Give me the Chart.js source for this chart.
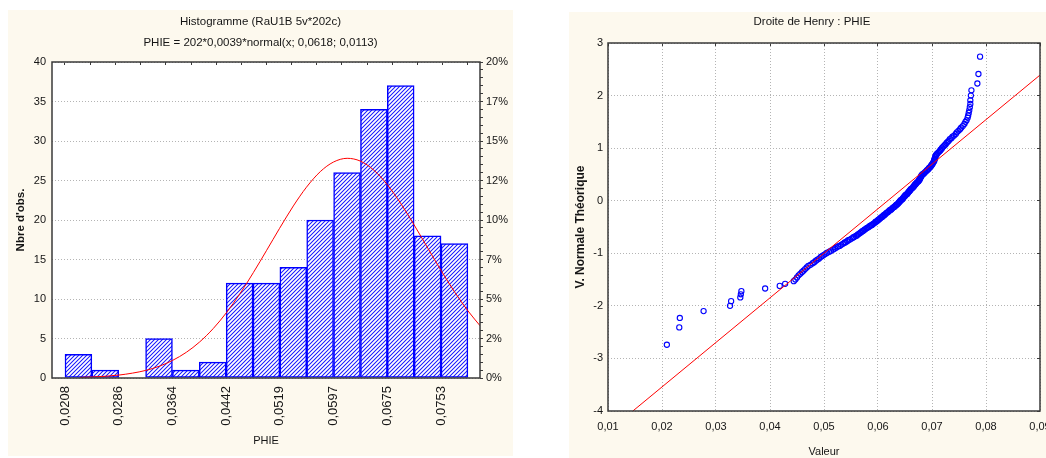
<!DOCTYPE html>
<html>
<head>
<meta charset="utf-8">
<script src="https://cdn.jsdelivr.net/npm/chart.js@4.4.1/dist/chart.umd.min.js"></script>
<style>
  html, body { margin: 0; padding: 0; background: #ffffff; width: 1046px; height: 458px; overflow: hidden; }
  .panel { position: absolute; background: #fdf9ee; }
  #histPanel { left: 8px; top: 10px; width: 505px; height: 446px; }
  #henryPanel { left: 569px; top: 12px; width: 500px; height: 460px; }
  canvas { display: block; }
</style>
</head>
<body>
<div class="panel" id="histPanel"><canvas id="hist" width="505" height="446"></canvas></div>
<div class="panel" id="henryPanel"><canvas id="henry" width="500" height="460"></canvas></div>
<script>
// ---------- Histogram of PHIE ----------
const histTitle = ['Histogramme (RaU1B 5v*202c)', 'PHIE = 202*0,0039*normal(x; 0,0618; 0,0113)'];
const binCenters = [0.02275, 0.02664, 0.03053, 0.03443, 0.03832, 0.04221, 0.04611, 0.05000,
                    0.05389, 0.05778, 0.06168, 0.06557, 0.06946, 0.07336, 0.07725];
const binCounts = [3, 1, 0, 5, 1, 2, 12, 12, 14, 20, 26, 34, 37, 18, 17];
const binEdges = [0.0208, 0.0247, 0.0286, 0.0325, 0.0364, 0.0403, 0.0442, 0.0481,
                  0.0519, 0.0558, 0.0597, 0.0636, 0.0675, 0.0714, 0.0753, 0.0792];
const histTickValues = [0.0208, 0.0286, 0.0364, 0.0442, 0.0519, 0.0597, 0.0675, 0.0753];
const histTickLabels = ['0,0208', '0,0286', '0,0364', '0,0442', '0,0519', '0,0597', '0,0675', '0,0753'];
const pctTickLabels = ['0%', '2%', '5%', '7%', '10%', '12%', '15%', '17%', '20%'];
// fitted normal curve (expected counts per bin)
const normalX = [0.0230, 0.0247, 0.0267, 0.0286, 0.0306, 0.0325, 0.0345, 0.0364, 0.0384, 0.0403,
                 0.0423, 0.0442, 0.0462, 0.0481, 0.0500, 0.0519, 0.0539, 0.0558, 0.0578, 0.0597,
                 0.0617, 0.0636, 0.0656, 0.0675, 0.0695, 0.0714, 0.0734, 0.0753, 0.0773, 0.0792, 0.0811];
const normalY = [0.08, 0.13, 0.22, 0.37, 0.62, 0.96, 1.50, 2.23, 3.26, 4.55,
                 6.27, 8.27, 10.72, 13.34, 16.12, 18.94, 21.78, 24.15, 26.12, 27.33,
                 27.81, 27.46, 26.28, 24.49, 22.05, 19.38, 16.42, 13.62, 10.85, 8.50, 6.47];

// ---------- Normal probability plot ----------
const henryTitle = 'Droite de Henry : PHIE';
const henryX = [
  0.0209, 0.0232, 0.0233, 0.0277, 0.0326, 0.0328, 0.0345, 0.0346, 0.0347, 0.0391,
  0.0418, 0.0428, 0.0444, 0.0447, 0.0450, 0.0453, 0.0456, 0.0459, 0.0462, 0.0465,
  0.0468, 0.0471, 0.0475, 0.0479, 0.0482, 0.0485, 0.0488, 0.0491, 0.0494, 0.0497,
  0.0500, 0.0503, 0.0506, 0.0510, 0.0513, 0.0517, 0.0520, 0.0523, 0.0526, 0.0529,
  0.0532, 0.0535, 0.0538, 0.0540, 0.0543, 0.0545, 0.0548, 0.0551, 0.0554, 0.0556,
  0.0559, 0.0561, 0.0563, 0.0565, 0.0567, 0.0569, 0.0571, 0.0573, 0.0575, 0.0577,
  0.0579, 0.0581, 0.0583, 0.0585, 0.0587, 0.0589, 0.0591, 0.0593, 0.0595, 0.0596,
  0.0598, 0.0600, 0.0601, 0.0603, 0.0604, 0.0606, 0.0607, 0.0609, 0.0610, 0.0612,
  0.0613, 0.0615, 0.0616, 0.0618, 0.0619, 0.0621, 0.0622, 0.0624, 0.0625, 0.0627,
  0.0628, 0.0630, 0.0631, 0.0633, 0.0634, 0.0635, 0.0637, 0.0638, 0.0639, 0.0640,
  0.0641, 0.0642, 0.0644, 0.0645, 0.0646, 0.0647, 0.0648, 0.0649, 0.0650, 0.0651,
  0.0653, 0.0654, 0.0655, 0.0656, 0.0657, 0.0658, 0.0659, 0.0660, 0.0661, 0.0662,
  0.0664, 0.0665, 0.0666, 0.0667, 0.0668, 0.0669, 0.0670, 0.0671, 0.0672, 0.0674,
  0.0675, 0.0676, 0.0677, 0.0677, 0.0678, 0.0679, 0.0680, 0.0680, 0.0681, 0.0682,
  0.0684, 0.0685, 0.0687, 0.0688, 0.0690, 0.0691, 0.0693, 0.0694, 0.0695, 0.0697,
  0.0698, 0.0699, 0.0700, 0.0701, 0.0702, 0.0703, 0.0704, 0.0704, 0.0705, 0.0705,
  0.0706, 0.0706, 0.0707, 0.0708, 0.0709, 0.0711, 0.0713, 0.0715, 0.0716, 0.0718,
  0.0719, 0.0721, 0.0723, 0.0725, 0.0727, 0.0729, 0.0731, 0.0733, 0.0736, 0.0738,
  0.0741, 0.0744, 0.0746, 0.0749, 0.0752, 0.0754, 0.0757, 0.0760, 0.0762, 0.0764,
  0.0766, 0.0767, 0.0768, 0.0769, 0.0770, 0.0771, 0.0771, 0.0772, 0.0773, 0.0784,
  0.0786, 0.0789
];
const henryY = [
  -2.74, -2.41, -2.23, -2.10, -2.00, -1.91, -1.84, -1.78, -1.72, -1.67,
  -1.62, -1.58, -1.53, -1.50, -1.46, -1.42, -1.39, -1.36, -1.33, -1.30,
  -1.27, -1.24, -1.22, -1.19, -1.17, -1.14, -1.12, -1.10, -1.07, -1.05,
  -1.03, -1.01, -0.99, -0.97, -0.95, -0.93, -0.91, -0.89, -0.87, -0.86,
  -0.84, -0.82, -0.80, -0.79, -0.77, -0.75, -0.74, -0.72, -0.70, -0.69,
  -0.67, -0.66, -0.64, -0.63, -0.61, -0.60, -0.58, -0.57, -0.55, -0.54,
  -0.52, -0.51, -0.50, -0.48, -0.47, -0.46, -0.44, -0.43, -0.41, -0.40,
  -0.39, -0.37, -0.36, -0.35, -0.33, -0.32, -0.31, -0.30, -0.28, -0.27,
  -0.26, -0.24, -0.23, -0.22, -0.21, -0.19, -0.18, -0.17, -0.16, -0.14,
  -0.13, -0.12, -0.11, -0.09, -0.08, -0.07, -0.06, -0.04, -0.03, -0.02,
  -0.01, 0.01, 0.02, 0.03, 0.04, 0.06, 0.07, 0.08, 0.09, 0.11,
  0.12, 0.13, 0.14, 0.16, 0.17, 0.18, 0.19, 0.21, 0.22, 0.23,
  0.24, 0.26, 0.27, 0.28, 0.30, 0.31, 0.32, 0.33, 0.35, 0.36,
  0.37, 0.39, 0.40, 0.41, 0.43, 0.44, 0.46, 0.47, 0.48, 0.50,
  0.51, 0.52, 0.54, 0.55, 0.57, 0.58, 0.60, 0.61, 0.63, 0.64,
  0.66, 0.67, 0.69, 0.70, 0.72, 0.74, 0.75, 0.77, 0.79, 0.80,
  0.82, 0.84, 0.86, 0.87, 0.89, 0.91, 0.93, 0.95, 0.97, 0.99,
  1.01, 1.03, 1.05, 1.07, 1.10, 1.12, 1.14, 1.17, 1.19, 1.22,
  1.24, 1.27, 1.30, 1.33, 1.36, 1.39, 1.42, 1.46, 1.50, 1.53,
  1.58, 1.62, 1.67, 1.72, 1.78, 1.84, 1.91, 2.00, 2.10, 2.23,
  2.41, 2.74
];
const henryLineX = [0.0146, 0.0900];
const henryLineY = [-4, 2.39];
const henryXTicks = [0.01, 0.02, 0.03, 0.04, 0.05, 0.06, 0.07, 0.08, 0.09];
const henryXTickLabels = ['0,01', '0,02', '0,03', '0,04', '0,05', '0,06', '0,07', '0,08', '0,09'];
const henryYTicks = [-4, -3, -2, -1, 0, 1, 2, 3];
const henryYTickLabels = ['-4', '-3', '-2', '-1', '0', '1', '2', '3'];

// ---------- shared styling ----------
Chart.defaults.font.family = "'Liberation Sans', Arial, sans-serif";
Chart.defaults.color = '#151515';
const FRAME = '#3a3a3a';
const GRID = '#b4b4b4';

// white plot area + dark frame around it
const framePlugin = {
  id: 'frame',
  beforeDraw(chart) {
    const { ctx, chartArea: a } = chart;
    ctx.save();
    ctx.fillStyle = '#ffffff';
    ctx.fillRect(a.left, a.top, a.right - a.left, a.bottom - a.top);
    ctx.restore();
  },
  afterDraw(chart) {
    const { ctx, chartArea: a } = chart;
    ctx.save();
    ctx.strokeStyle = FRAME;
    ctx.lineWidth = 1.5;
    ctx.strokeRect(a.left, a.top, a.right - a.left, a.bottom - a.top);
    ctx.restore();
  }
};

// diagonal blue hatching used for the bars
function makeHatch() {
  const c = document.createElement('canvas');
  c.width = 4; c.height = 4;
  const g = c.getContext('2d');
  g.fillStyle = '#ffffff';
  g.fillRect(0, 0, 4, 4);
  for (let x = 0; x < 4; x++) {
    for (let y = 0; y < 4; y++) {
      const k = (x + y) % 4;
      if (k === 3) { g.fillStyle = '#2424ff'; g.fillRect(x, y, 1, 1); }
      else if (k === 0 || k === 2) { g.fillStyle = '#c4c4ff'; g.fillRect(x, y, 1, 1); }
    }
  }
  return document.getElementById('hist').getContext('2d').createPattern(c, 'repeat');
}

const H_MIN = 0.01892, H_MAX = 0.08095;

new Chart(document.getElementById('hist'), {
  type: 'bar',
  data: {
    datasets: [
      {
        type: 'line',
        data: normalX.map((x, i) => ({ x: x, y: normalY[i] })),
        borderColor: '#ff0000',
        borderWidth: 1,
        pointRadius: 0,
        cubicInterpolationMode: 'monotone',
        fill: false
      },
      {
        type: 'bar',
        data: binCenters.map((x, i) => ({ x: x, y: binCounts[i] })),
        backgroundColor: makeHatch(),
        borderColor: '#0000ff',
        borderWidth: 1.5,
        borderSkipped: false,
        barPercentage: 1,
        categoryPercentage: 1
      }
    ]
  },
  options: {
    responsive: false,
    animation: false,
    layout: { padding: 0 },
    plugins: {
      legend: { display: false },
      tooltip: { enabled: false },
      title: {
        display: true,
        text: histTitle,
        color: '#151515',
        font: { size: 11.5, weight: 'normal', lineHeight: '21px' },
        padding: { top: 1.5, bottom: 8.5 }
      }
    },
    scales: {
      x: {
        type: 'linear',
        position: 'bottom',
        min: H_MIN, max: H_MAX,
        offset: false,
        afterBuildTicks: s => { s.ticks = histTickValues.map(v => ({ value: v })); },
        ticks: {
          autoSkip: false, minRotation: 90, maxRotation: 90, padding: 8,
          font: { size: 13 },
          callback: (v, i) => histTickLabels[i]
        },
        grid: { display: false, drawTicks: false },
        border: { display: false },
        title: { display: true, text: 'PHIE', font: { size: 11 }, padding: { top: 0, bottom: 8.4 } },
        afterFit: s => { s.height = 78; }
      },
      xTop: {
        type: 'linear',
        position: 'top',
        min: H_MIN, max: H_MAX,
        afterBuildTicks: s => { s.ticks = binEdges.map(v => ({ value: v })); },
        ticks: { display: false },
        grid: { drawOnChartArea: false, drawTicks: true, tickLength: -3, color: FRAME },
        border: { display: false },
        afterFit: s => { s.height = 0; }
      },
      y: {
        type: 'linear',
        position: 'left',
        min: 0, max: 40,
        ticks: { stepSize: 5, padding: 6, font: { size: 11 } },
        grid: { color: GRID, drawTicks: false },
        border: { display: false, dash: [1, 2] },
        title: { display: true, text: "Nbre d'obs.", font: { size: 11.5, weight: 'bold' }, padding: { top: 6, bottom: 0 } },
        afterFit: s => { s.width = 44; }
      },
      y2: {
        type: 'linear',
        position: 'right',
        min: 0, max: 40,
        ticks: {
          stepSize: 1, maxTicksLimit: 60, autoSkip: false, padding: 3,
          font: { size: 11 },
          callback: v => (v % 5 === 0 ? pctTickLabels[v / 5] : '')
        },
        grid: { drawOnChartArea: false, drawTicks: true, tickLength: 3, color: FRAME },
        border: { display: false },
        afterFit: s => { s.width = 33; }
      }
    }
  },
  plugins: [framePlugin]
});

new Chart(document.getElementById('henry'), {
  type: 'scatter',
  data: {
    datasets: [
      {
        type: 'line',
        data: henryLineX.map((x, i) => ({ x: x, y: henryLineY[i] })),
        borderColor: '#ff0000',
        borderWidth: 1,
        pointRadius: 0,
        fill: false
      },
      {
        data: henryX.map((x, i) => ({ x: x, y: henryY[i] })),
        pointStyle: 'circle',
        pointRadius: 2.6,
        borderWidth: 1.1,
        borderColor: '#0000ff',
        backgroundColor: 'rgba(0,0,0,0)'
      }
    ]
  },
  options: {
    responsive: false,
    animation: false,
    layout: { padding: { left: 0, top: 0, right: 14, bottom: 0 } },
    plugins: {
      legend: { display: false },
      tooltip: { enabled: false },
      title: {
        display: true,
        text: henryTitle,
        color: '#151515',
        font: { size: 11.5, weight: 'normal', lineHeight: 1.2 },
        padding: { top: 3.1, bottom: 14.1 }
      }
    },
    scales: {
      x: {
        type: 'linear',
        position: 'bottom',
        min: 0.01, max: 0.09,
        afterBuildTicks: s => { s.ticks = henryXTicks.map(v => ({ value: v })); },
        ticks: { autoSkip: false, maxRotation: 0, padding: 9.4, font: { size: 11 },
                 callback: (v, i) => henryXTickLabels[i] },
        grid: { color: GRID, drawTicks: false },
        border: { display: false, dash: [1, 2] },
        title: { display: true, text: 'Valeur', font: { size: 11 }, padding: { top: 0, bottom: 13.4 } },
        afterFit: s => { s.height = 61; }
      },
      xTop: {
        type: 'linear',
        position: 'top',
        min: 0.01, max: 0.09,
        afterBuildTicks: s => { s.ticks = henryXTicks.map(v => ({ value: v })); },
        ticks: { display: false },
        grid: { drawOnChartArea: false, drawTicks: true, tickLength: -3, color: FRAME },
        border: { display: false },
        afterFit: s => { s.height = 0; }
      },
      y: {
        type: 'linear',
        position: 'left',
        min: -4, max: 3,
        afterBuildTicks: s => { s.ticks = henryYTicks.map(v => ({ value: v })); },
        ticks: { autoSkip: false, padding: 5, font: { size: 11 },
                 callback: (v, i) => henryYTickLabels[i] },
        grid: { color: GRID, drawTicks: false },
        border: { display: false, dash: [1, 2] },
        title: { display: true, text: 'V. Normale Théorique', font: { size: 12, weight: 'bold' }, padding: { top: 4.8, bottom: 0 } },
        afterFit: s => { s.width = 39; }
      },
      yRight: {
        type: 'linear',
        position: 'right',
        min: -4, max: 3,
        afterBuildTicks: s => { s.ticks = henryYTicks.map(v => ({ value: v })); },
        ticks: { display: false },
        grid: { drawOnChartArea: false, drawTicks: true, tickLength: -3, color: FRAME },
        border: { display: false },
        afterFit: s => { s.width = 15; }
      }
    }
  },
  plugins: [framePlugin]
});
</script>
</body>
</html>
